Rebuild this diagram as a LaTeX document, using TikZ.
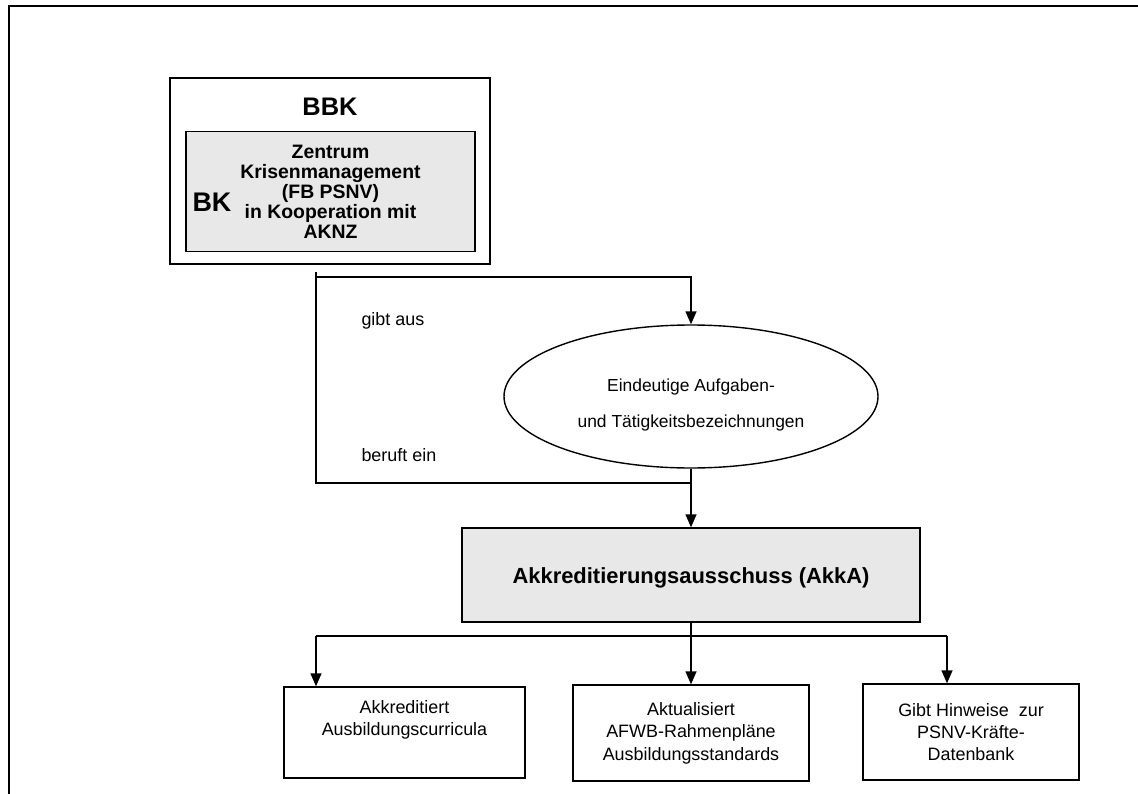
\documentclass[tikz,border=0pt]{standalone}
\usepackage{fontspec}
\setmainfont{Liberation Sans}
\usetikzlibrary{arrows.meta,shapes.geometric}
\definecolor{boxgray}{RGB}{232,232,232}
\begin{document}
\begin{tikzpicture}[x=1bp,y=-1bp,
  line/.style={line width=1.4bp},
  arr/.style={line width=1.4bp,-{Triangle[length=13bp,width=11bp]}},
  box/.style={draw,line width=1.4bp,rectangle,inner sep=0pt,align=center},
  regtext/.style={font=\fontsize{18}{22.5}\selectfont,align=center},
  boldtext/.style={font=\fontsize{19.5}{20}\selectfont\bfseries,align=center}
]
\useasboundingbox (0,0) rectangle (1138,794);
% outer frame
\draw[line] (9,794) -- (9,6) -- (1138,6);

% BBK block
\node[box,minimum width=320bp,minimum height=186bp] (bbk) at (330,171) {};
\node[font=\fontsize{25.5}{25.5}\selectfont\bfseries] (bbktitle) at (330,107) {BBK};
\node[box,fill=boxgray,minimum width=289bp,minimum height=120bp,boldtext] (inner) at (330.5,191.5)
  {Zentrum\\Krisenmanagement\\(FB PSNV)\\in Kooperation mit\\AKNZ};
\node[font=\fontsize{27}{27}\selectfont\bfseries] (bk) at (212,202) {BK};

% ellipse
\node[draw,line width=1.4bp,ellipse,minimum width=374bp,minimum height=143bp,inner sep=0pt] (ell) at (691,396.5) {};
\node[font=\fontsize{17.5}{36}\selectfont,align=center] (elltext) at (691,405)
  {Eindeutige Aufgaben-\\und Tätigkeitsbezeichnungen};

% labels
\node[regtext,anchor=west] (gibt) at (358,321) {gibt aus};
\node[regtext,anchor=west] (beruft) at (358,455) {beruft ein};

% AkkA
\node[box,fill=boxgray,minimum width=458bp,minimum height=94bp] (akka) at (691,575) {};
\node[font=\fontsize{22}{24}\selectfont\bfseries] (akkatext) at (691,578) {Akkreditierungsausschuss (AkkA)};

% bottom boxes
\node[box,regtext,minimum width=241bp,minimum height=91bp] (lbox) at (404.5,732.5)
  {Akkreditiert\\Ausbildungscurricula\\\strut};
\node[box,regtext,minimum width=236bp,minimum height=96bp] (mbox) at (691,733)
  {Aktualisiert\\AFWB-Rahmenpläne\\Ausbildungsstandards};
\node[box,regtext,minimum width=216bp,minimum height=96bp] (rbox) at (971,732)
  {Gibt Hinweise\ \ zur\\PSNV-Kräfte-\\Datenbank};

% connectors
\coordinate (s1) at (316,272);
\coordinate (tl) at (316,277);
\coordinate (bl) at (316,483);
\draw[line] (s1) -- (bl) -- (bl -| ell.south);
\draw[arr] (tl) -- (tl -| ell.north) -- (ell.north);
\draw[arr] (ell.south) -- (akka.north);
\coordinate (bL) at (316,636);
\coordinate (bR) at (947,636);
\draw[line] (bL) -- (bR);
\draw[arr] (bL) -- (bL |- lbox.north);
\draw[arr] (bR) -- (bR |- rbox.north);
\draw[arr] (akka.south) -- (mbox.north);
\end{tikzpicture}
\end{document}
